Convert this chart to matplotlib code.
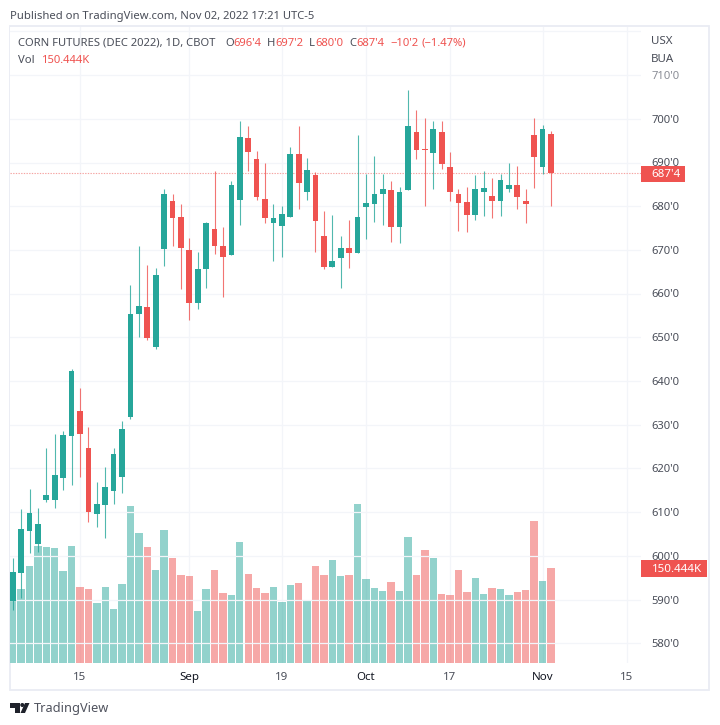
import matplotlib
matplotlib.use('Agg')
from matplotlib import pyplot as plt
from matplotlib.patches import Polygon, Circle, Rectangle

opens = [589.7, 596.1, 605.8, 602.7, 612.8, 612.8, 617.9, 627.5, 633.1, 624.8, 609.7, 611.7, 614.9, 618.1, 631.8, 655.3,
         656.9, 647.9, 670.1, 681.2, 677.5, 669.9, 657.9, 665.6, 674.9, 671.0, 668.9, 681.4, 695.5, 690.7, 681.6, 676.1,
         675.5, 677.6, 691.9, 683.3, 687.1, 673.2, 666.2, 668.1, 670.4, 669.4, 679.9, 680.6, 682.8, 683.8, 675.3, 683.6,
         697.0, 693.2, 692.2, 697.0, 689.0, 682.9, 681.0, 677.9, 683.3, 682.3, 681.3, 684.0, 684.8, 681.3, 696.4, 688.9, 696.5]
highs = [599.6, 610.7, 615.2, 611.0, 624.6, 628.0, 628.6, 642.8, 638.3, 629.4, 617.0, 620.4, 624.6, 630.9, 662.0, 671.0,
         666.5, 665.8, 683.9, 682.7, 680.5, 672.8, 669.5, 676.4, 688.0, 675.2, 685.8, 699.5, 698.3, 692.6, 689.9, 680.5,
         680.0, 693.5, 698.4, 691.0, 687.9, 678.9, 678.0, 673.2, 676.8, 696.3, 687.4, 691.4, 687.4, 685.8, 684.5, 706.6,
         702.0, 700.1, 699.5, 699.5, 692.3, 683.9, 684.5, 687.1, 688.0, 686.5, 687.4, 689.8, 689.2, 683.9, 700.1, 698.5, 697.25]
lows = [587.6, 590.4, 600.6, 600.9, 612.3, 611.0, 615.1, 616.2, 618.1, 607.8, 606.7, 604.0, 611.9, 614.3, 631.3, 650.1,
        649.4, 647.3, 666.4, 671.0, 661.1, 654.0, 656.6, 661.4, 669.1, 659.2, 668.9, 675.7, 688.1, 681.4, 676.2, 667.5,
        668.3, 677.6, 679.4, 681.4, 669.6, 665.6, 666.2, 661.4, 665.9, 669.4, 672.5, 676.4, 675.8, 671.9, 671.5, 683.6,
        690.7, 680.0, 684.0, 688.5, 681.2, 674.4, 674.1, 676.8, 677.7, 677.3, 677.7, 683.2, 679.3, 676.2, 684.2, 687.4, 680.0]
closes = [596.25, 606.1, 609.9, 607.2, 613.9, 618.4, 627.7, 642.3, 628.0, 610.1, 611.9, 615.7, 623.3, 629.0, 655.3, 657.2,
          649.8, 664.3, 682.9, 677.2, 670.4, 657.9, 665.7, 676.1, 670.9, 668.4, 684.8, 695.9, 692.5, 682.0, 677.4, 677.3,
          678.2, 691.9, 685.3, 688.2, 676.6, 666.2, 667.5, 670.4, 669.4, 677.5, 680.7, 682.9, 684.0, 675.3, 683.2, 698.3,
          692.8, 692.8, 697.7, 689.6, 683.3, 680.7, 678.0, 684.0, 684.2, 681.3, 686.1, 684.8, 682.0, 680.5, 691.2, 697.7, 687.5]
volumes = [117, 117, 153, 186, 183, 182, 145, 186, 120, 117, 95, 121, 85, 125, 249, 206,
           183, 147, 210, 166, 140, 138, 83, 117, 147, 111, 108, 191, 141.5, 118, 111, 121,
           97, 123, 127, 98, 154, 140, 163, 138, 139, 252, 132.5, 119, 114, 129, 114, 200,
           140, 179, 166, 109, 107, 147, 112, 134, 109, 119, 117, 107, 113, 115, 225, 130, 150.444]
vol_up = [1, 1, 1, 1, 1, 1, 1, 1, 0, 0, 1, 1, 1, 1, 1, 1,
          0, 1, 1, 0, 0, 0, 1, 1, 0, 0, 1, 1, 0, 0, 0, 1,
          1, 1, 0, 1, 0, 0, 1, 1, 0, 1, 1, 1, 1, 0, 1, 1,
          0, 0, 1, 0, 0, 0, 0, 1, 1, 0, 1, 1, 0, 0, 0, 1, 0]

tick_idx = [8, 21, 32, 42, 52, 63, 73]
tick_labels = ['15', 'Sep', '19', 'Oct', '17', 'Nov', '15']
price_ticks = [710, 700, 690, 680, 670, 660, 650, 640, 630, 620, 610, 600, 590, 580]

GREEN = '#26a69a'
RED = '#ef5350'
GRID = '#f3f5f9'
TEXT = '#4a4e59'
W, H = 720, 725

plt.rcParams['font.family'] = ['Noto Sans', 'DejaVu Sans']


def px_text(x, y, s, **kw):
    kw.setdefault('color', TEXT)
    kw.setdefault('fontsize', 8.1)
    kw.setdefault('va', 'center')
    return fig.text(x / W, 1 - (y + 1.4) / H, s, **kw)


fig = plt.figure(figsize=(W / 100, H / 100), dpi=100, facecolor='white')
pos = [10 / W, 1 - 663 / H, 631 / W, 636 / H]
ax_vol = fig.add_axes(pos, zorder=1)
ax = fig.add_axes(pos, zorder=2)
ax.patch.set_visible(False)

xlim = (-0.32, 74.7)
for a in (ax, ax_vol):
    a.set_xlim(xlim)
    for s in a.spines.values():
        s.set_visible(False)
    a.set_xticks([])
    a.set_yticks([])
ax.set_ylim(575.5, 721)
ax_vol.set_ylim(0, 1007)

# grid
for p in price_ticks + [720]:
    ax.plot(xlim, [p, p], color=GRID, lw=0.9, zorder=0)
for t in tick_idx:
    ax_vol.axvline(t, color=GRID, lw=0.9, zorder=0)

# volume
vol_colors = [GREEN if u else RED for u in vol_up]
ax_vol.bar(range(len(volumes)), volumes, width=0.88, color=vol_colors, alpha=0.5, zorder=2)

# candles
for i, (o, h, l, c) in enumerate(zip(opens, highs, lows, closes)):
    col = GREEN if c >= o else RED
    ax.plot([i, i], [l, h], color=col, lw=0.8, alpha=0.8, zorder=3, solid_capstyle='butt')
    ax.bar(i, abs(c - o), bottom=min(o, c), width=0.68, color=col, zorder=4)

# last price line
ax.plot(xlim, [closes[-1], closes[-1]], color='#f5a3a1', lw=0.8, ls=(0, (1.2, 1.2)), zorder=2)

# frame
fig.add_artist(Rectangle((10 / W, 1 - 690 / H), 699 / W, 664 / H, transform=fig.transFigure,
                         fill=False, ec='#e9ecf3', lw=1.3))

# axis text
for t, lab in zip(tick_idx, tick_labels):
    month = lab.isalpha()
    px_text(12.7 + 8.41 * t, 676, lab, ha='center', fontsize=8.3,
            color='#131722' if month else TEXT, fontweight='bold' if month else 'normal')
for p in price_ticks:
    y = 75 + (710 - p) * 4.372
    px_text(651.5, y, "%d'0" % p, fontsize=8.1, color='#8a8d96' if p == 710 else TEXT)
px_text(650.5, 40, 'USX', fontsize=8.3)
px_text(650.5, 58, 'BUA', fontsize=8.3)

# price labels
fig.add_artist(Rectangle((641 / W, 1 - 182.3 / H), 44 / W, 16.6 / H, transform=fig.transFigure, color=RED, lw=0))
px_text(651.5, 173.5, "687'4", color='white', fontsize=8.3)
fig.add_artist(Rectangle((641 / W, 1 - 576.7 / H), 66 / W, 16.7 / H, transform=fig.transFigure, color=RED, lw=0))
px_text(651.5, 568, '150.444K', color='white', fontsize=8.3)

# header
px_text(10, 15, 'Published on TradingView.com, Nov 02, 2022 17:21 UTC-5')
px_text(18, 42, 'CORN FUTURES (DEC 2022), 1D, CBOT')
for x, s, col in [(225, 'O', TEXT), (233.7, "696'4", RED), (267.3, 'H', TEXT), (275, "697'2", RED),
                  (309, 'L', TEXT), (315, "680'0", RED), (349, 'C', TEXT), (356.7, "687'4", RED),
                  (390, "\u221210'2", RED), (421, '(\u22121.47%)', RED)]:
    px_text(x, 42, s, color=col)
px_text(18, 59, 'Vol', color=TEXT)
px_text(41.5, 59, '150.444K', color=RED)

# logo
logo = '#1f222b'
for pts in ([(10, 703), (19.5, 703), (19.5, 713), (15, 713), (15, 707.5), (10, 707.5)],
            [(29.5, 703), (25, 703), (20.5, 713), (25, 713)]):
    fig.add_artist(Polygon([(x / W, 1 - y / H) for x, y in pts], transform=fig.transFigure, color=logo, lw=0))
fig.add_artist(Circle((22.3 / W, 1 - 705 / H), 0.0028, transform=fig.transFigure, color=logo, lw=0))
px_text(33.5, 707, 'TradingView', fontsize=9.2, color='#50535e')

fig.savefig('out.png', dpi=100)
